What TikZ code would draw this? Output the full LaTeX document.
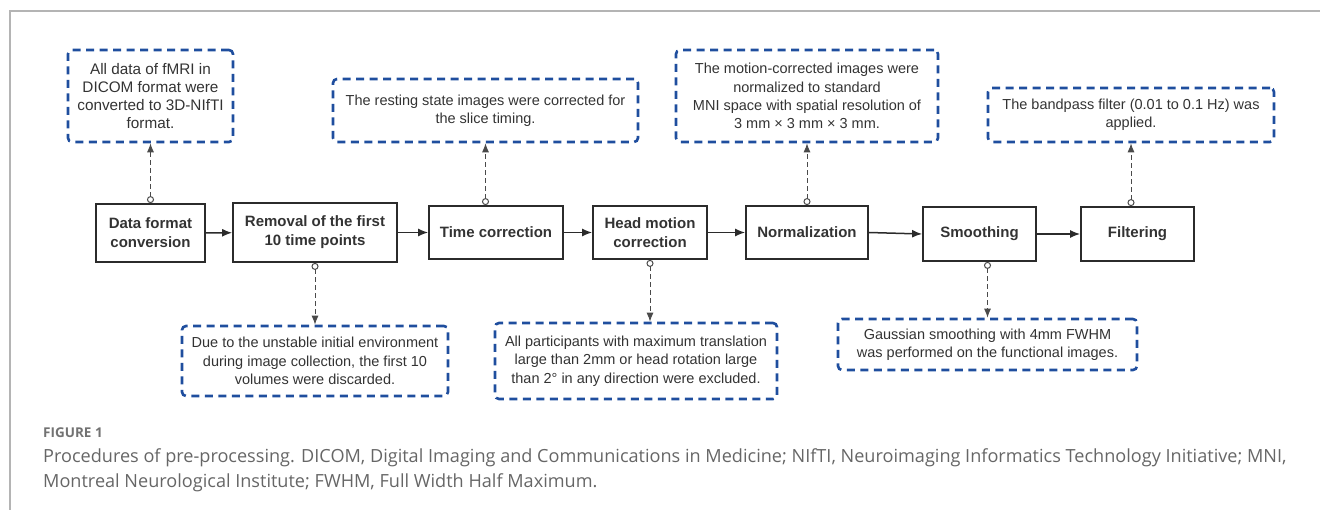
\documentclass[tikz,border=0pt]{standalone}
\usepackage{fontspec}
\setmainfont{Liberation Sans}
\newfontfamily\capfont{Open Sans}
\usetikzlibrary{arrows.meta}
\definecolor{noteblue}{HTML}{1F4E9E}
\definecolor{boxline}{HTML}{2B2B2B}
\definecolor{txt}{HTML}{333333}
\definecolor{framec}{HTML}{B4B4B4}
\definecolor{capc}{HTML}{666666}
\definecolor{figc}{HTML}{727272}
\definecolor{conn}{HTML}{4A4A4A}
\tikzset{
  stepbox/.style={draw=boxline, line width=1.8pt, text=txt,
    font=\fontsize{15}{19}\selectfont\bfseries, align=center, inner sep=0pt},
  note/.style={draw=noteblue, line width=2.6pt, dash pattern=on 8pt off 5.5pt,
    rounded corners=4pt, text=txt, font=\fontsize{14.5}{18.3}\selectfont,
    align=center, inner sep=0pt},
  flow/.style={draw=boxline, line width=1.5pt, -{Latex[length=10pt,width=8pt]}},
  link/.style={draw=conn, line width=1pt, dash pattern=on 5pt off 3pt,
    {Circle[open,length=7pt,width=7pt,line width=1pt]}-{Latex[length=9pt,width=7pt]}},
  capstyle/.style={anchor=base west, inner sep=0pt, text=capc,
    font=\capfont\fontsize{18.1}{19}\selectfont},
}
\begin{document}
\begin{tikzpicture}[x=1pt,y=-1pt]
\useasboundingbox (0,0) rectangle (1320,510);
\draw[framec, line width=1.3pt] (10,510) -- (10,11) -- (1320,11);

% main steps
\node[stepbox, minimum width=109pt, minimum height=58pt] (b1) at (150.5,233) {Data format\\conversion};
\node[stepbox, minimum width=164pt, minimum height=59pt] (b2) at (315,232.5) {Removal of the first\\10 time points};
\node[stepbox, minimum width=134pt, minimum height=53pt] (b3) at (496,232.5) {Time correction};
\node[stepbox, minimum width=114pt, minimum height=53pt] (b4) at (650,232.5) {Head motion\\correction};
\node[stepbox, minimum width=122pt, minimum height=53pt] (b5) at (807,232.5) {Normalization};
\node[stepbox, minimum width=113pt, minimum height=54pt] (b6) at (979.5,234) {Smoothing};
\node[stepbox, minimum width=113pt, minimum height=54pt] (b7) at (1137.5,234) {Filtering};

\draw[flow] (b1) -- (b2);
\draw[flow] (b2) -- (b3);
\draw[flow] (b3) -- (b4);
\draw[flow] (b4) -- (b5);
\draw[flow] (b5.east) -- (b6.west);
\draw[flow] (b6) -- (b7);

% notes
\node[note, minimum width=165pt, minimum height=92pt, font=\fontsize{15.3}{18.3}\selectfont] (n1) at (150.5,96)
  {All data of fMRI in\\DICOM format were\\converted to 3D-NIfTI\\format.};
\node[note, minimum width=305pt, minimum height=63pt] (n2) at (485.5,110.5)
  {The resting state images were corrected for\\the slice timing.};
\node[note, minimum width=262pt, minimum height=92pt] (n3) at (807,96)
  {The motion-corrected images were\\normalized to standard\\MNI space with spatial resolution of\\3 mm × 3 mm × 3 mm.};
\node[note, minimum width=286pt, minimum height=54pt] (n4) at (1131,115)
  {The bandpass filter (0.01 to 0.1 Hz) was\\applied.};
\node[note, minimum width=266pt, minimum height=70pt] (n5) at (315,361)
  {Due to the unstable initial environment\\during image collection, the first 10\\volumes were discarded.};
\node[note, minimum width=282pt, minimum height=76pt] (n6) at (636,361)
  {All participants with maximum translation\\large than 2mm or head rotation large\\than 2° in any direction were excluded.};
\node[note, minimum width=299pt, minimum height=51pt] (n7) at (987.5,344.5)
  {Gaussian smoothing with 4mm FWHM\\was performed on the functional images.};

% links
\draw[link] (b1.north) -- (n1.south);
\draw[link] (n2.south |- b3.north) -- (n2.south);
\draw[link] (n3.south |- b5.north) -- (n3.south);
\draw[link] (n4.south |- b7.north) -- (n4.south);
\draw[link] (b2.south) -- (n5.north);
\draw[link] (b4.south) -- (b4.south |- n6.north);
\draw[link] (n7.north |- b6.south) -- (n7.north);

% caption
\node[anchor=base west, inner sep=0pt, text=figc,
  font=\capfont\bfseries\fontsize{13.5}{15}\selectfont] (fig) at (43,438) {FIGURE 1};
\node[capstyle] (cap1) at (43,462) {Procedures of pre-processing. DICOM, Digital Imaging and Communications in Medicine; NIfTI, Neuroimaging Informatics Technology Initiative; MNI,};
\node[capstyle] (cap2) at (43,487) {Montreal Neurological Institute; FWHM, Full Width Half Maximum.};
\end{tikzpicture}
\end{document}
